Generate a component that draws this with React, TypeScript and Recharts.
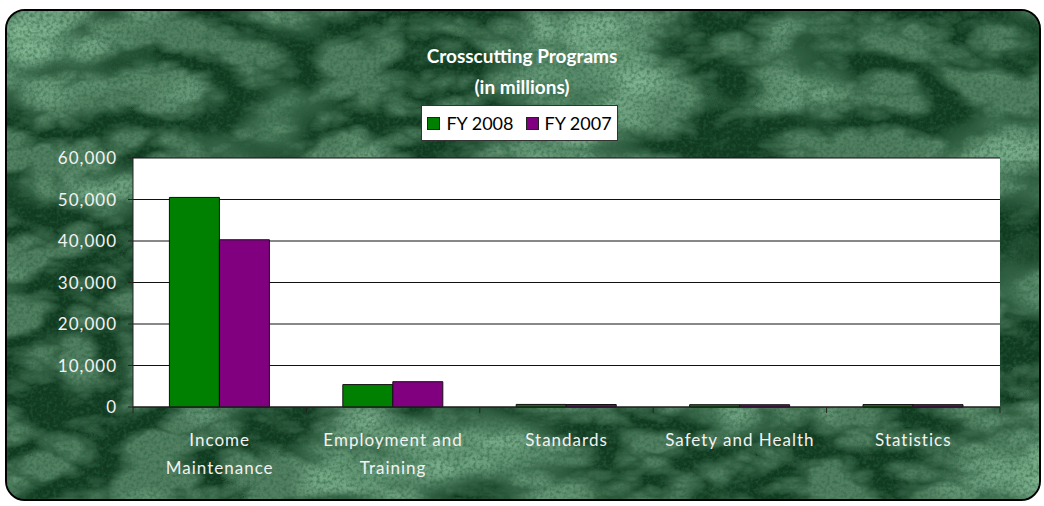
import React from 'react';
import { BarChart, Bar, XAxis, YAxis, CartesianGrid, Legend } from 'recharts';

const categories = ['Income\nMaintenance', 'Employment and\nTraining', 'Standards', 'Safety and Health', 'Statistics'];
const fy2008 = [50500, 5400, 620, 560, 590];
const fy2007 = [40300, 6100, 600, 550, 570];
const yTicks = [0, 10000, 20000, 30000, 40000, 50000, 60000];
const seriesNames = ['FY 2008', 'FY 2007'];
const seriesColors = ['#008000', '#800080'];

const data = categories.map((c, i) => ({ name: c, a: fy2008[i], b: fy2007[i] }));

const FONT = 'Lato, "Open Sans", sans-serif';

const XTick = (props: any) => {
  const { x, y, payload, index, visibleTicksCount } = props;
  const off = payload.offset || 0;
  const lines = String(payload.value).split('\n');
  return (
    <g>
      <line x1={x - off} x2={x - off} y1={y - 8} y2={y - 2} stroke="#222" strokeWidth={1} />
      {index === visibleTicksCount - 1 && (
        <line x1={x + off} x2={x + off} y1={y - 8} y2={y - 2} stroke="#222" strokeWidth={1} />
      )}
      <text x={x} y={y + 31} textAnchor="middle" fill="#f2f2f2" fontFamily={FONT} fontSize={17} letterSpacing={1}>
        {lines.map((l, i) => (
          <tspan key={i} x={x} dy={i === 0 ? 0 : 28}>{l}</tspan>
        ))}
      </text>
    </g>
  );
};

const renderLegend = () => (
  <div style={{ display: 'flex', alignItems: 'center', justifyContent: 'center', height: '100%', gap: 12 }}>
    {seriesNames.map((n, i) => (
      <div key={n} style={{ display: 'flex', alignItems: 'center', gap: 6 }}>
        <div style={{ width: 11, height: 11, background: seriesColors[i], border: '1px solid #222' }} />
        <span style={{ fontFamily: FONT, fontSize: 18, color: '#000' }}>{n}</span>
      </div>
    ))}
  </div>
);

export default function App() {
  return (
    <div style={{ position: 'absolute', left: 0, top: 0, width: 1044, height: 506, background: '#fff', overflow: 'hidden' }}>
      <div style={{ position: 'absolute', left: 5, top: 9, width: 1032, height: 488, border: '2px solid #000', borderRadius: 20, overflow: 'hidden', background: '#123d22' }}>
        <svg width={1032} height={488} style={{ position: 'absolute', left: 0, top: 0 }}>
          <defs>
            <filter id="marble" x="0" y="0" width="100%" height="100%">
              <feTurbulence type="turbulence" baseFrequency="0.01 0.018" numOctaves={5} seed={11} />
              <feColorMatrix type="matrix" values="0 0 0 0 0.36  0 0 0 0 0.66  0 0 0 0 0.44  3.0 0 0 0 -0.55" />
            </filter>
            <filter id="blotch" x="0" y="0" width="100%" height="100%">
              <feTurbulence type="fractalNoise" baseFrequency="0.006 0.01" numOctaves={3} seed={4} />
              <feColorMatrix type="matrix" values="0 0 0 0 0.25  0 0 0 0 0.52  0 0 0 0 0.33  3.5 0 0 0 -1.6" />
            </filter>
            <filter id="speck" x="0" y="0" width="100%" height="100%">
              <feTurbulence type="fractalNoise" baseFrequency="0.3" numOctaves={2} seed={2} />
              <feColorMatrix type="matrix" values="0 0 0 0 0.02  0 0 0 0 0.12  0 0 0 0 0.05  2.5 0 0 0 -1.0" />
            </filter>
          </defs>
          <rect width={1032} height={488} fill="#113a20" />
          <rect width={1032} height={488} filter="url(#blotch)" opacity={0.7} />
          <rect width={1032} height={488} filter="url(#marble)" opacity={0.45} />
          <rect width={1032} height={488} filter="url(#speck)" opacity={0.55} />
        </svg>
      </div>
      <div style={{ position: 'absolute', left: 0, top: 40, width: 1044, textAlign: 'center', color: '#fff', fontFamily: FONT, fontWeight: 700, fontSize: 19, lineHeight: '31px' }}>
        <div>Crosscutting Programs</div>
        <div>(in millions)</div>
      </div>
      <div style={{ position: 'absolute', left: 0, top: 0 }}>
        <BarChart width={1044} height={506} data={data} margin={{ top: 158, right: 44, bottom: 0, left: 0 }} barCategoryGap="21%" barGap={0}>
          <CartesianGrid vertical={false} fill="#ffffff" stroke="#111" strokeWidth={1} />
          <XAxis dataKey="name" interval={0} tick={<XTick />} tickLine={false} axisLine={{ stroke: '#222' }} height={99} />
          <YAxis
            domain={[0, 60000]}
            ticks={yTicks}
            interval={0}
            width={133}
            tickSize={5}
            tickMargin={11}
            tickLine={{ stroke: '#222' }}
            axisLine={{ stroke: '#222' }}
            tickFormatter={(v: number) => v.toLocaleString('en-US')}
            tick={{ fill: '#f2f2f2', fontFamily: FONT, fontSize: 17, letterSpacing: 1 }}
          />
          <YAxis yAxisId="r" orientation="right" width={0} tick={false} tickLine={false} axisLine={{ stroke: '#999' }} />
          <Legend
            verticalAlign="middle"
            layout="horizontal"
            content={renderLegend}
            wrapperStyle={{ position: 'absolute', top: 105, left: 421, width: 195, height: 34, background: '#fff', border: '1px solid #333' }}
          />
          <Bar dataKey="a" name={seriesNames[0]} fill={seriesColors[0]} stroke="#111" strokeWidth={1} isAnimationActive={false} />
          <Bar dataKey="b" name={seriesNames[1]} fill={seriesColors[1]} stroke="#111" strokeWidth={1} isAnimationActive={false} />
        </BarChart>
      </div>
    </div>
  );
}
